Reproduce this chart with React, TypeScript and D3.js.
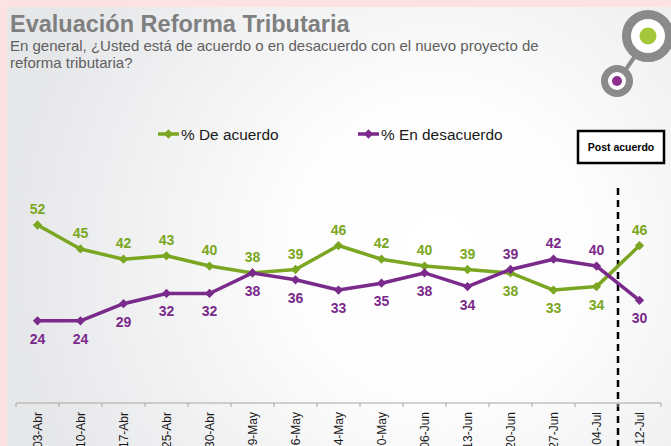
import React from "react";
import * as d3 from "d3";

const categories = ["03-Abr","10-Abr","17-Abr","25-Abr","30-Abr","09-May","16-May","24-May","30-May","06-Jun","13-Jun","20-Jun","27-Jun","04-Jul","12-Jul"];
const acuerdo = [52,45,42,43,40,38,39,46,42,40,39,38,33,34,46];
const desacuerdo = [24,24,29,32,32,38,36,33,35,38,34,39,42,40,30];
// label placement: true = above the point
const acuerdoAbove = [true,true,true,true,true,true,true,true,true,true,true,false,false,false,true];
const desacuerdoAbove = [false,false,false,false,false,false,false,false,false,false,false,true,true,true,false];

const W = 671, H = 446;
const GREEN = "#7ba622";
const PURPLE = "#7a2a8a";
const FONT = "'Liberation Sans', Arial, sans-serif";

export default function App() {
  const x = d3.scaleBand().domain(categories).range([16, 661]);
  const y = d3.scaleLinear().domain([0, 52]).range([403, 225]);
  const cx = (c: string) => (x(c) as number) + x.bandwidth() / 2;
  const line = d3.line<number>().x((_, i) => cx(categories[i])).y(d => y(d));
  const diamond = d3.symbol().type(d3.symbolDiamond2).size(55)();
  const postX = x(categories[categories.length - 1]) as number;

  const series = [
    { vals: acuerdo, color: GREEN, above: acuerdoAbove },
    { vals: desacuerdo, color: PURPLE, above: desacuerdoAbove },
  ];

  return (
    <svg width={W} height={H} style={{ position: "absolute", left: 0, top: 0 }} fontFamily={FONT}>
      <defs>
        <radialGradient id="bg" cx="440" cy="250" r="430" gradientUnits="userSpaceOnUse">
          <stop offset="0" stopColor="#ffffff" />
          <stop offset="0.35" stopColor="#fdfdfd" />
          <stop offset="1" stopColor="#e6e7e9" />
        </radialGradient>
      </defs>
      <rect x={0} y={0} width={W} height={H} fill="#fde2e4" />
      <rect x={7} y={7} width={W - 7} height={H - 7} fill="url(#bg)" />

      {/* Title */}
      <text x={10} y={32} fontSize={23.5} fontWeight="bold" fill="#7f7f7f">Evaluación Reforma Tributaria</text>
      <text x={10} y={51} fontSize={15} fill="#5f5f5f">En general, ¿Usted está de acuerdo o en desacuerdo con el nuevo proyecto de</text>
      <text x={10} y={68} fontSize={15} fill="#5f5f5f">reforma tributaria?</text>

      {/* Logo */}
      <line x1={624} y1={72} x2={638} y2={52} stroke="#8a8a8a" strokeWidth={4} />
      <circle cx={648} cy={36} r={21.5} fill="#ffffff" stroke="#8a8a8a" strokeWidth={9} />
      <circle cx={648} cy={36} r={8.5} fill="#a3c83a" />
      <circle cx={617} cy={81} r={12.5} fill="#ffffff" stroke="#8a8a8a" strokeWidth={7} />
      <circle cx={617} cy={81} r={5} fill="#8e2f8f" />

      {/* Legend */}
      <line x1={158} y1={134} x2={179} y2={134} stroke={GREEN} strokeWidth={3.5} />
      <path d={diamond} transform="translate(168.5,134)" fill={GREEN} />
      <text x={181} y={140} fontSize={15.4} fill="#1a1a1a">% De acuerdo</text>
      <line x1={358} y1={134} x2={379} y2={134} stroke={PURPLE} strokeWidth={3.5} />
      <path d={diamond} transform="translate(368.5,134)" fill={PURPLE} />
      <text x={381} y={140} fontSize={15.4} fill="#1a1a1a">% En desacuerdo</text>

      {/* Post acuerdo box */}
      <rect x={578} y={131} width={86} height={32} fill="#ffffff" stroke="#000" strokeWidth={2.5} />
      <text x={621} y={151} fontSize={10.5} fontWeight="bold" textAnchor="middle" fill="#000">Post acuerdo</text>
      <line x1={postX} y1={188} x2={postX} y2={H} stroke="#000" strokeWidth={2.5} strokeDasharray="7,5" />

      {/* Axis */}
      <line x1={16} y1={403} x2={661} y2={403} stroke="#a6a6a6" strokeWidth={1} />
      {categories.map((c, i) => (
        <line key={"t" + i} x1={x(c) as number} x2={x(c) as number} y1={403} y2={407} stroke="#a6a6a6" />
      ))}
      <line x1={661} x2={661} y1={403} y2={407} stroke="#a6a6a6" />
      {categories.map((c, i) => (
        <text key={"l" + i} transform={`translate(${cx(c) + 4},412) rotate(-90)`} textAnchor="end" fontSize={12} fill="#1a1a1a">{c}</text>
      ))}

      {/* Series */}
      {series.map((s, si) => (
        <g key={si}>
          <path d={line(s.vals) as string} fill="none" stroke={s.color} strokeWidth={3.5} strokeLinejoin="round" />
          {s.vals.map((v, i) => (
            <path key={i} d={diamond} transform={`translate(${cx(categories[i])},${y(v)})`} fill={s.color} />
          ))}
          {s.vals.map((v, i) => (
            <text key={"v" + i} x={cx(categories[i])} y={y(v) + (s.above[i] ? -11 : 23)} textAnchor="middle" fontSize={14} fontWeight="bold" fill={s.color}>{v}</text>
          ))}
        </g>
      ))}
    </svg>
  );
}
